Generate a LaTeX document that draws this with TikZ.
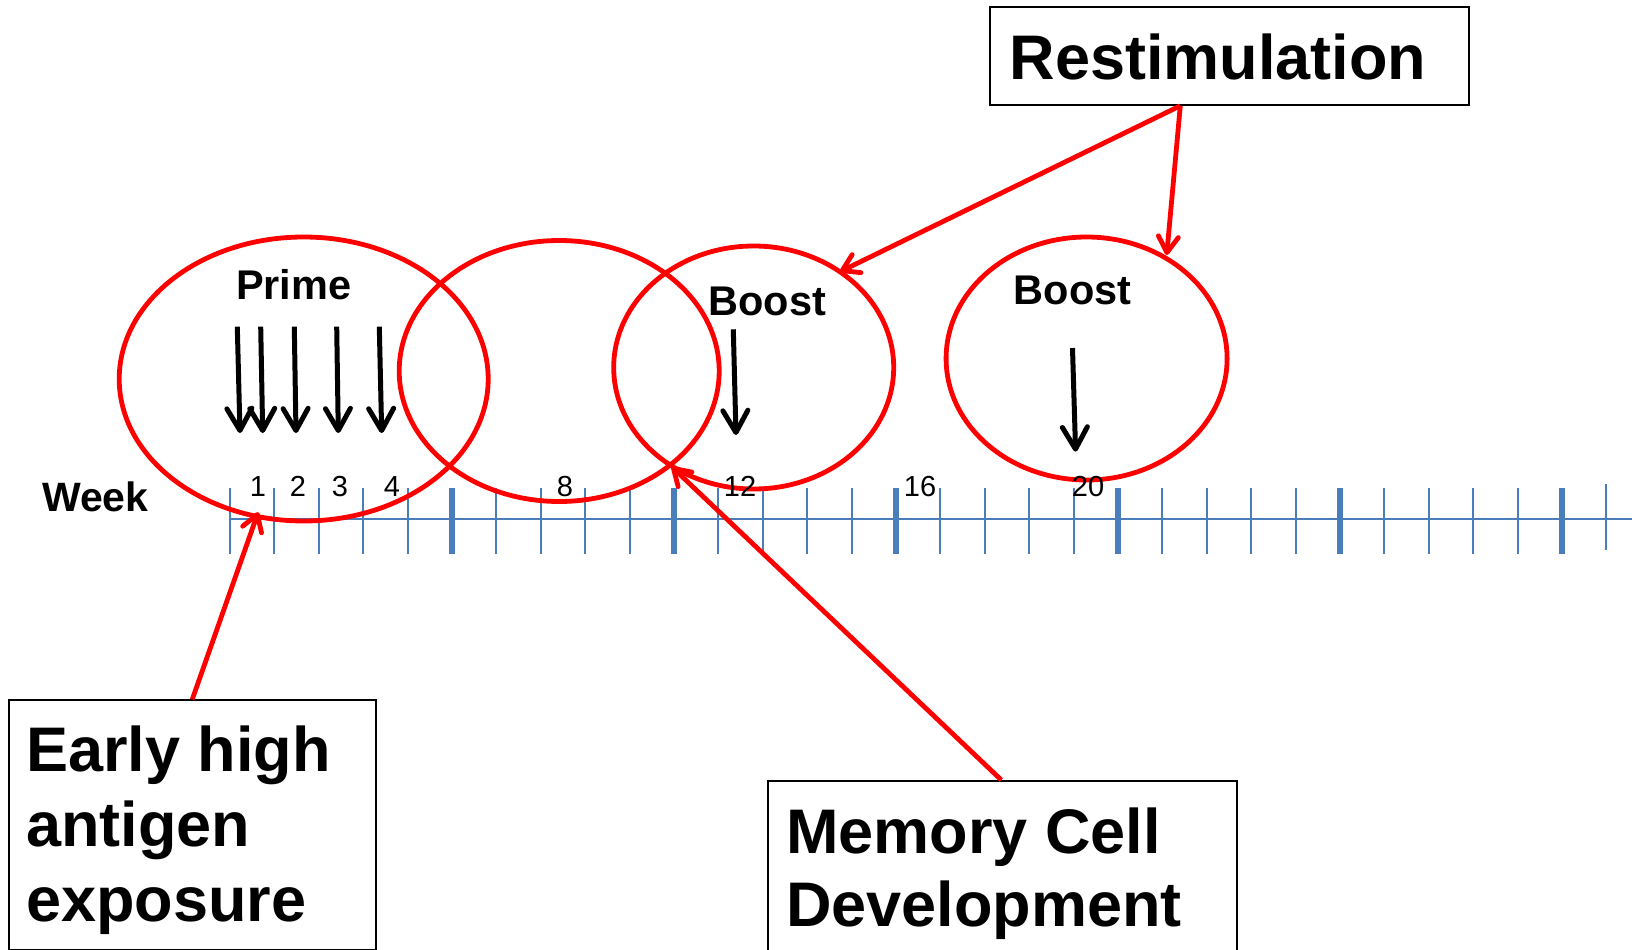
\documentclass[tikz,border=0pt]{standalone}
\usepackage{fontspec}
\setmainfont{Liberation Sans}
\usetikzlibrary{arrows.meta,shapes.geometric}
\definecolor{axisblue}{RGB}{74,126,187}
\definecolor{ringred}{RGB}{255,0,0}
\tikzset{
  ring/.style={shape=ellipse, draw=ringred, line width=4.8pt, inner sep=0pt},
  redarrow/.style={draw=ringred, line width=4.8pt, -{Straight Barb[round,length=16pt,width=20pt]}},
  dosearrow/.style={draw=black, line width=5pt, -{Straight Barb[round,length=22pt,width=25pt]}},
  labelbox/.style={draw=black, line width=1.8pt, inner sep=0pt, anchor=north west},
  bigtext/.style={font=\fontsize{63}{75}\selectfont\bfseries},
  ticknum/.style={font=\fontsize{29}{29}\selectfont, anchor=base, inner sep=0pt},
  phase/.style={font=\fontsize{41.5}{41.5}\selectfont\bfseries, anchor=base, inner sep=0pt},
  thintick/.style={draw=axisblue, line width=2pt},
  thicktick/.style={draw=axisblue, line width=6pt},
  axisline/.style={draw=axisblue, line width=2.2pt},
}
\begin{document}
\begin{tikzpicture}[x=1pt,y=-1pt]
\useasboundingbox (0,0) rectangle (1639,950);

% timeline
\draw[axisline] (230,519.3) -- (1632,519.3);
\foreach \i in {0,...,30} \draw[thintick] ({230+44.4*\i},488) -- ({230+44.4*\i},554);
\foreach \i in {5,10,...,30} \draw[thicktick] ({230+44.4*\i},488) -- ({230+44.4*\i},554);
\draw[thintick] (1606.4,484) -- (1606.4,550);

% phase ellipses
\node[ring, minimum width=369pt, minimum height=284pt] (e1) at (303.7,379) {};
\node[ring, minimum width=320pt, minimum height=261pt] (e2) at (559.2,371) {};
\node[ring, minimum width=280pt, minimum height=243pt] (e3) at (753.7,367.5) {};
\node[ring, minimum width=281pt, minimum height=243pt] (e4) at (1086.6,358.5) {};

% dose arrows
\foreach \xa/\xb in {237.3/240, 260.7/262.7, 294.3/296, 336.7/338.3, 379.3/381.7}
  \draw[dosearrow] (\xa,326.7) -- (\xb,433);
\draw[dosearrow] (733.3,329.3) -- (736,435);
\draw[dosearrow] (1072.5,348) -- (1075.6,451.6);

% labels
\node[phase] (prime) at (293.7,299) {Prime};
\node[phase] (boostA) at (767.3,315.7) {Boost};
\node[phase] (boostB) at (1072.5,304.2) {Boost};
\node[font=\fontsize{41}{41}\selectfont\bfseries, anchor=base west, inner sep=0pt] (week) at (42,511.7) {Week};
\foreach \n/\x in {1/258, 2/298, 3/340, 4/392, 8/565, 12/740, 16/920, 20/1088}
  \node[ticknum] (w\n) at (\x,496) {\n};

% boxes
\node[labelbox, bigtext] (restim) at (989.3,6)
  {\parbox[c][98pt][t]{479pt}{\vspace*{26.5pt}\raggedright\leftskip=19.4pt\noindent Restimulation}};
\node[labelbox, bigtext] (early) at (8.3,699.3)
  {\parbox[c][249.7pt][t]{366.7pt}{\vspace*{25.7pt}\raggedright\leftskip=17pt\noindent Early high\\antigen\\exposure}};
\node[labelbox, font=\fontsize{63}{73.4}\selectfont\bfseries] (mem) at (767.3,780)
  {\parbox[c][185pt][t]{468.7pt}{\vspace*{26.7pt}\raggedright\leftskip=18pt\noindent Memory Cell\\Development}};

% red connectors
\coordinate (tipWeek) at (258.2,512.2);
\coordinate (tipCross) at (671.7,466.7);
\coordinate (tipBoostA) at (840,271.7);
\coordinate (tipBoostB) at (1166.7,255);
\draw[redarrow] ([xshift=184pt]early.north west) -- (tipWeek);
\draw[redarrow] ([xshift=234pt]mem.north west) -- (tipCross);
\draw[redarrow] ([xshift=191pt]restim.south west) -- (tipBoostA);
\draw[redarrow] ([xshift=191pt]restim.south west) -- (tipBoostB);
\end{tikzpicture}
\end{document}
